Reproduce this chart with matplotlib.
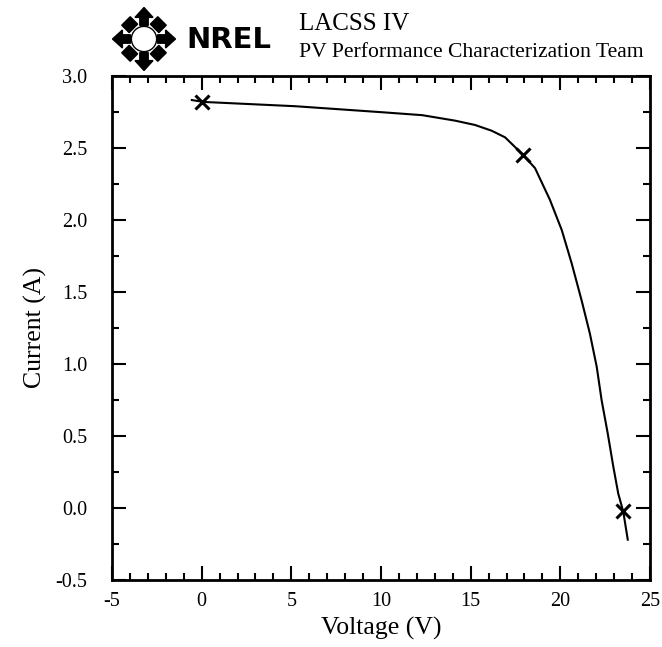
import numpy as np
import matplotlib.pyplot as plt
from matplotlib.patches import Polygon, Circle
from matplotlib.ticker import MultipleLocator

# --- data ---
voltage = [-0.55, 0.1, 5.24, 10.1, 12.3, 14.13, 15.24, 16.17, 16.92, 17.94,
           18.59, 19.42, 20.08, 20.63, 21.19, 21.65, 22.03, 22.30, 22.64,
           22.95, 23.23, 23.51, 23.76]
current = [2.833, 2.82, 2.79, 2.748, 2.728, 2.69, 2.66, 2.62, 2.574, 2.45,
           2.36, 2.14, 1.93, 1.70, 1.44, 1.21, 0.98, 0.75, 0.52,
           0.29, 0.10, -0.026, -0.22]
mark_v = [0.0, 17.94, 23.5]
mark_i = [2.82, 2.45, -0.02]

title1 = "LACSS IV"
title2 = "PV Performance Characterization Team"

plt.rcParams['font.family'] = ['Liberation Serif', 'DejaVu Serif']
plt.rcParams['axes.unicode_minus'] = False

fig = plt.figure(figsize=(6.62, 6.47), dpi=100)
ax = fig.add_axes([112 / 662, 1 - 580 / 647, 538 / 662, 504 / 647])

ax.plot(voltage, current, color='black', lw=1.5)
ax.plot(mark_v, mark_i, ls='none', marker='x', ms=10, mew=2.2, color='black')

ax.set_xlim(-5, 25)
ax.set_ylim(-0.5, 3.0)
ax.xaxis.set_major_locator(MultipleLocator(5))
ax.xaxis.set_minor_locator(MultipleLocator(1))
ax.yaxis.set_major_locator(MultipleLocator(0.5))
ax.yaxis.set_minor_locator(MultipleLocator(0.25))
ax.yaxis.set_major_formatter(plt.FormatStrFormatter('%.1f'))
ax.tick_params(which='both', direction='in', top=True, right=True, width=1.5,
               labelsize=14.5)
ax.tick_params(which='major', length=10)
ax.tick_params(which='minor', length=5)
ax.tick_params(axis='y', which='major', pad=18)
ax.tick_params(axis='x', which='major', pad=9)
for s in ax.spines.values():
    s.set_linewidth(2)

ax.set_xlabel("Voltage (V)", fontsize=18.5, labelpad=4)
ax.set_ylabel("Current (A)", fontsize=18.5, labelpad=6)

# --- header text ---
fig.text(299 / 662, 1 - 23.5 / 647, title1, fontsize=18, va='center', ha='left')
fig.text(299 / 662, 1 - 52.5 / 647, title2, fontsize=15.6, va='center', ha='left')

# --- rough NREL logo ---
lax = fig.add_axes([108 / 662, 1 - 72 / 647, 72 / 662, 66 / 647])
lax.set_xlim(-1.1, 1.1)
lax.set_ylim(-1.1, 1.1)
lax.set_aspect('equal')
lax.axis('off')
lax.add_patch(Circle((0, 0), 0.42, fc='white', ec='black', lw=1))
for k in range(8):
    a = np.deg2rad(45 * k)
    c, s = np.cos(a), np.sin(a)
    if k % 2 == 0:
        pts = [(0.45, -0.14), (0.72, -0.14), (0.72, -0.3), (1.05, 0),
               (0.72, 0.3), (0.72, 0.14), (0.45, 0.14)]
    else:
        pts = [(0.5, -0.2), (0.85, -0.2), (0.85, 0.2), (0.5, 0.2)]
    rot = [(x * c - y * s, x * s + y * c) for x, y in pts]
    lax.add_patch(Polygon(rot, closed=True, fc='black', ec='black'))
fig.text(186 / 662, 1 - 40 / 647, "NREL", fontsize=21, fontweight='heavy',
         family='DejaVu Sans', va='center', ha='left')

fig.savefig('out.png', dpi=100)
